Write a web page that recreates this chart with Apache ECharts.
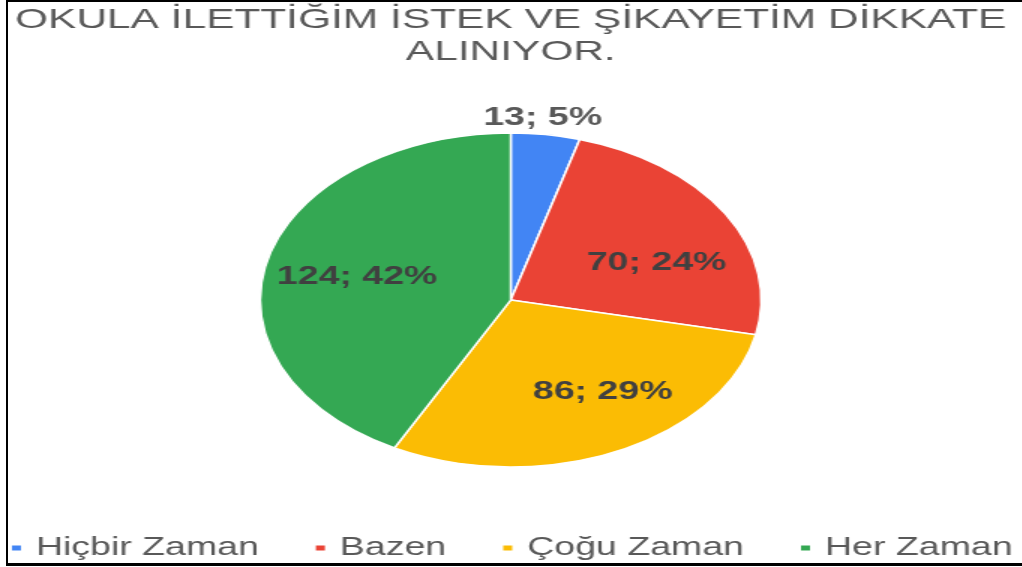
<!DOCTYPE html>
<html>
<head>
<meta charset="utf-8">
<script src="https://cdn.jsdelivr.net/npm/echarts@6/dist/echarts.min.js"></script>
<style>
  html, body { margin: 0; padding: 0; background: #fff; }
  #wrap { position: relative; width: 1022px; height: 567px; overflow: hidden; background: #fff; }
  #chart { position: absolute; left: 0; top: 0; width: 681.333px; height: 567px; transform: scaleX(1.5); transform-origin: 0 0; }
  #frame { position: absolute; left: 6px; top: 0px; right: -10px; bottom: 1px; border-left: 2px solid #000; border-top: 2px solid #000; border-bottom: 3px solid #000; pointer-events: none; }
</style>
</head>
<body>
<div id="wrap">
  <div id="chart"></div>
  <div id="frame"></div>
</div>
<script>
const titleText = 'OKULA İLETTİĞİM İSTEK VE ŞİKAYETİM DİKKATE\nALINIYOR.';
const categories = ['Hiçbir Zaman', 'Bazen', 'Çoğu Zaman', 'Her Zaman'];
const counts = [13, 70, 86, 124];
const colors = ['#4285F4', '#EA4335', '#FBBC04', '#34A853'];

const font = '"Liberation Sans", Arial, sans-serif';
const center = ['50%', 300];

const chart = echarts.init(document.getElementById('chart'), null, { renderer: 'canvas' });

const baseData = categories.map((name, i) => ({ name: name, value: counts[i], itemStyle: { color: colors[i] } }));

const insideLabelData = categories.map((name, i) => ({
  name: name, value: counts[i],
  label: { show: i !== 0 }
}));
const outsideLabelData = categories.map((name, i) => ({
  name: name, value: counts[i],
  label: { show: i === 0 }
}));

// small best-fit nudges of the label boxes (Excel-style placement)
function insideNudge(p) {
  const adj = { 1: [6, 18], 2: [16, -4], 3: [1, 3] };
  const a = adj[p.dataIndex] || [0, 0];
  return { dx: a[0], dy: a[1] };
}
function outsideNudge(p) {
  return { dx: -5, dy: 5 };
}

chart.setOption({
  animation: false,
  color: colors,
  title: {
    text: titleText,
    left: 'center',
    top: 4.5,
    padding: 0,
    textStyle: { fontFamily: font, fontSize: 28.3, fontWeight: 'normal', color: '#595959', lineHeight: 32 }
  },
  legend: {
    data: categories,
    top: 535,
    left: 'center',
    padding: 0,
    icon: 'rect',
    itemWidth: 8,
    itemHeight: 7,
    itemGap: 36,
    textStyle: { fontFamily: font, fontSize: 25, color: '#595959', lineHeight: 26, padding: [0, 0, 0, 4] }
  },
  series: [
    {
      type: 'pie',
      center: center,
      radius: [0, 167],
      startAngle: 90,
      clockwise: true,
      silent: true,
      label: { show: false },
      labelLine: { show: false },
      itemStyle: { borderColor: '#ffffff', borderWidth: 1.5 },
      data: baseData
    },
    {
      type: 'pie',
      center: center,
      radius: [40, 167],
      startAngle: 90,
      clockwise: true,
      silent: true,
      percentPrecision: 0,
      avoidLabelOverlap: false,
      legendHoverLink: false,
      itemStyle: { color: 'rgba(0,0,0,0)', borderWidth: 0 },
      label: { position: 'inside', formatter: '{c}; {d}%', fontFamily: font, fontSize: 25, fontWeight: 'bold', color: '#404040' },
      labelLine: { show: false },
      labelLayout: insideNudge,
      data: insideLabelData
    },
    {
      type: 'pie',
      center: center,
      radius: [172, 200],
      startAngle: 90,
      clockwise: true,
      silent: true,
      percentPrecision: 0,
      avoidLabelOverlap: false,
      legendHoverLink: false,
      itemStyle: { color: 'rgba(0,0,0,0)', borderWidth: 0 },
      label: { position: 'inside', formatter: '{c}; {d}%', fontFamily: font, fontSize: 25, fontWeight: 'bold', color: '#595959' },
      labelLine: { show: false },
      labelLayout: outsideNudge,
      data: outsideLabelData
    }
  ]
});
</script>
</body>
</html>
